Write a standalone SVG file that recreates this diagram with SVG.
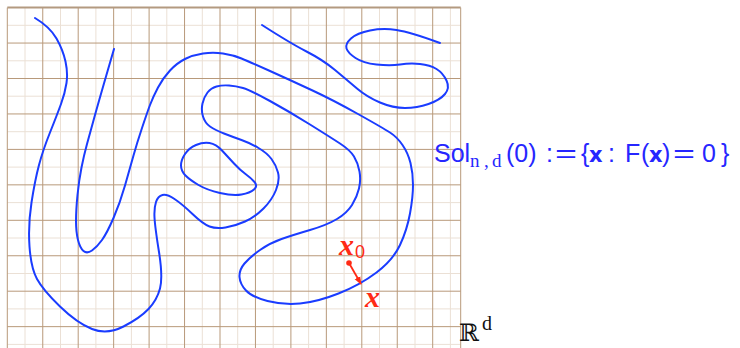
<svg xmlns="http://www.w3.org/2000/svg" width="740" height="348" viewBox="0 0 740 348">
<style>
.maj{stroke:#b8997a;stroke-width:1;fill:none}
.min{stroke:#ebe0d5;stroke-width:1;fill:none}
.curve{stroke:#1a3cff;stroke-width:2;fill:none;stroke-linecap:round;stroke-linejoin:round}
.blue{fill:#2626ff}
.sans{font-family:"Liberation Sans","DejaVu Sans",sans-serif}
.serif{font-family:"Liberation Serif","DejaVu Serif",serif}
.red{fill:#ff2a14}
</style>
<defs>
<marker id="ah" viewBox="0 0 10 10" refX="9" refY="5" markerWidth="8" markerHeight="8" orient="auto" markerUnits="userSpaceOnUse">
<path d="M0,1 L10,5 L0,9 Z" fill="#ff2a14"/>
</marker>
</defs>
<rect width="740" height="348" fill="#ffffff"/>
<g id="grid">
<path class="min" d="M25,7.6V348M60.5,7.6V348M95.9,7.6V348M131.4,7.6V348M166.8,7.6V348M202.3,7.6V348M237.7,7.6V348M273.2,7.6V348M308.6,7.6V348M344.1,7.6V348M379.5,7.6V348M415,7.6V348M450.4,7.6V348M7.3,25.3H460.7M7.3,60.8H460.7M7.3,96.2H460.7M7.3,131.7H460.7M7.3,167.1H460.7M7.3,202.6H460.7M7.3,238H460.7M7.3,273.5H460.7M7.3,308.9H460.7M7.3,344.4H460.7"/>
<path class="maj" d="M7.3,7.6V348M42.75,7.6V348M78.2,7.6V348M113.65,7.6V348M149.1,7.6V348M184.55,7.6V348M220,7.6V348M255.45,7.6V348M290.9,7.6V348M326.35,7.6V348M361.8,7.6V348M397.25,7.6V348M432.7,7.6V348M460.7,7.6V348M7.3,43.05H460.7M7.3,78.5H460.7M7.3,113.95H460.7M7.3,149.4H460.7M7.3,184.85H460.7M7.3,220.3H460.7M7.3,255.75H460.7M7.3,291.2H460.7M7.3,326.65H460.7"/>
<path d="M7.3,7.6H460.7" stroke="#b39a80" stroke-width="2" fill="none"/>
</g>
<g id="solution-set">
<path id="long-curve" class="curve" d="M35,18 Q50,27 56.5,38.5 Q63,50 65.5,61.5 Q68,73 66.5,83 Q65,93 61,104 Q57,115 50,132.5 Q43,150 39,165 Q35,180 31.5,202.5 Q28,225 29.5,246.5 Q31,268 37,279 Q43,290 60,306.5 Q77,323 92,329 Q107,335 123.5,326.5 Q140,318 148.5,309 Q157,300 160,288.5 Q163,277 159,252 Q155,227 154.5,217.5 Q154,208 156,202 Q158,196 162.5,195 Q167,194 174.5,199 Q182,204 192.5,214 Q203,224 209.5,226.5 Q216,229 225.5,227.5 Q235,226 245,221.5 Q255,217 263.5,208.5 Q272,200 276,190 Q280,180 278,172.5 Q276,165 271.5,159 Q267,153 258.5,148 Q250,143 241.5,140 Q233,137 224,133.5 Q215,130 210,126.5 Q205,123 203,116.5 Q201,110 202.5,103.5 Q204,97 207.5,92.5 Q211,88 216.5,86.5 Q222,85 229,85.5 Q236,86 243,88 Q250,90 270,101 Q290,112 310,124.5 Q330,137 340,143.5 Q350,150 354,156.5 Q358,163 359.5,171.5 Q361,180 359,188.5 Q357,197 352,205 Q347,213 337,219 Q327,225 310,230 Q293,235 281.5,239 Q270,243 260,250 Q250,257 244.5,263.5 Q239,270 239.5,277 Q240,284 246,290.5 Q252,297 267.5,301 Q283,305 300,303.5 Q317,302 338.5,293.5 Q360,285 376.5,272.5 Q393,260 400,245 Q407,230 410,213.5 Q413,197 413,185 Q413,173 410.5,163 Q408,153 402.5,145 Q397,137 390,132.5 Q383,128 358,114 Q333,100 311.5,90 Q290,80 270,71 Q250,62 241.5,58.5 Q233,55 223,53.5 Q213,52 203,53.5 Q193,55 185,59 Q177,63 170,70.5 Q163,78 158,87.5 Q153,97 150,105 Q147,113 142,128 Q137,143 133.5,155.5 Q130,168 125,185.5 Q120,203 113.5,218 Q107,233 102,240 Q97,247 92,250.5 Q87,254 83.5,251 Q80,248 78,240 Q76,232 76,221 Q76,210 77.5,195 Q79,180 81.5,167.5 Q84,155 87,144 Q90,133 95,115 Q100,97 114,49"/>
<path id="inner-loop" class="curve" d="M181,165.5 Q181,160 185,154 Q189,148 196,145 Q203,142 209.5,143 Q216,144 222,150.5 Q228,157 234,163.5 Q240,170 245.5,174 Q251,178 254.5,182 Q258,186 254,189.5 Q250,193 241.5,194.5 Q233,196 220,193 Q207,190 198.5,185 Q190,180 185.5,175.5 Q181,171 181,165.5 Z"/>
<path id="top-curve" class="curve" d="M262,25 Q290,43 306.5,51.5 Q323,60 335,70 Q347,80 357,88.5 Q367,97 380,102.5 Q393,108 405,108 Q417,108 428.5,104 Q440,100 445,94 Q450,88 446.5,80.5 Q443,73 436.5,69 Q430,65 420,64 Q410,63 400,64.5 Q390,66 376.5,64.5 Q363,63 355.5,58 Q348,53 346.5,48.5 Q345,44 351,38.5 Q357,33 370,30.5 Q383,28 396.5,30 Q410,32 440,43"/>
</g>
<g id="definition" class="blue">
<text x="434" y="162" class="sans" font-size="25">Sol</text>
<text x="470" y="167" class="serif" font-size="19">n</text>
<text x="484" y="167" class="serif" font-size="19">,</text>
<text x="492" y="167" class="serif" font-size="19">d</text>
<text x="506" y="162" class="sans" font-size="25">(0)</text>
<text x="546" y="162" class="sans" font-size="25">:</text>
<text x="555" y="162" class="sans" font-size="25" textLength="22" lengthAdjust="spacingAndGlyphs">=</text>
<text x="581" y="162" class="sans" font-size="25">{</text>
<text x="589" y="162" font-family="DejaVu Sans, sans-serif" font-weight="bold" font-size="21">x</text>
<text x="608" y="162" class="sans" font-size="25">:</text>
<text x="625" y="162" class="sans" font-size="25">F</text>
<text x="641" y="162" class="sans" font-size="25">(</text>
<text x="649" y="162" font-family="DejaVu Sans, sans-serif" font-weight="bold" font-size="21">x</text>
<text x="662" y="162" class="sans" font-size="25">)</text>
<text x="673" y="162" class="sans" font-size="25" textLength="22" lengthAdjust="spacingAndGlyphs">=</text>
<text x="702" y="162" class="sans" font-size="25">0</text>
<text x="721" y="162" class="sans" font-size="25">}</text>
</g>
<g id="point-x0" class="red">
<text x="339" y="255" class="serif" font-size="30" font-style="italic" font-weight="bold">x</text>
<text x="355" y="258" class="sans" font-size="18">0</text>
</g>
<g id="point-x" class="red">
<text x="365" y="307" class="serif" font-size="30" font-style="italic" font-weight="bold">x</text>
</g>
<g id="connectors">
<circle cx="349" cy="263" r="2.8" fill="#ff2a14"/>
<line x1="349" y1="263" x2="361" y2="284" stroke="#ff2a14" stroke-width="1.8" marker-end="url(#ah)"/>
</g>
<g id="space-label">
<text x="459" y="341" font-family="DejaVu Serif, DejaVu Sans, serif" font-size="24" fill="#111">ℝ</text>
<text x="482" y="330" class="serif" font-size="20" fill="#111">d</text>
</g>
</svg>
